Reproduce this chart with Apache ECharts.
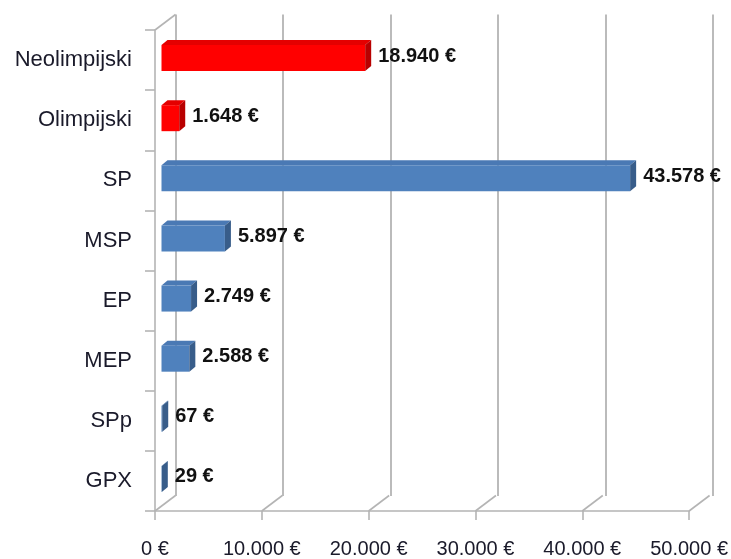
<!DOCTYPE html>
<html>
<head>
<meta charset="utf-8">
<script src="https://cdn.jsdelivr.net/npm/echarts@6/dist/echarts.min.js"></script>
<style>
  html, body { margin: 0; padding: 0; background: #fff; }
  #container { width: 731px; height: 559px; }
</style>
</head>
<body>
<div id="container"></div>
<script>
// data
var categories = ['Neolimpijski', 'Olimpijski', 'SP', 'MSP', 'EP', 'MEP', 'SPp', 'GPX'];
var values = [18940, 1648, 43578, 5897, 2749, 2588, 67, 29];
var olympic = ['Neolimpijski', 'Olimpijski'];
var axisMin = 0;
var axisMax = 50000;
var axisStep = 10000;
var tickValues = [0, 10000, 20000, 30000, 40000, 50000];

// 3d look
var wallDx = 20.5, wallDy = -15.5;
var barDx = 6, barDy = -5;
var faceH = 26;
var gridColor = '#b4b4b4';
var font = 'Liberation Sans';

function euro(v) {
  var s = String(Math.round(v)).replace(/\B(?=(\d{3})+(?!\d))/g, '.');
  return s + ' €';
}

var dom = document.getElementById('container');
var myChart = echarts.init(dom);

var barData = values.map(function (v, i) { return [v, i]; });

function renderBar(params, api) {
  var i = api.value(1);
  var v = api.value(0);
  var start = api.coord([0, i]);
  var end = api.coord([v, i]);
  var red = olympic.indexOf(categories[i]) >= 0;
  var front = red ? '#ff0000' : '#4f81bd';
  var top = red ? '#e40000' : '#4a79b4';
  var side = red ? '#b80000' : '#385d8a';
  var x0 = start[0], x1 = end[0];
  var y0 = start[1] - faceH / 2, y1 = start[1] + faceH / 2;
  return {
    type: 'group',
    children: [
      {
        type: 'polygon',
        shape: { points: [[x0, y0], [x1, y0], [x1 + barDx, y0 + barDy], [x0 + barDx, y0 + barDy]] },
        style: { fill: top }
      },
      {
        type: 'rect',
        shape: { x: x0, y: y0, width: x1 - x0, height: faceH },
        style: { fill: front }
      },
      {
        type: 'polygon',
        shape: { points: [[x1, y0], [x1 + barDx, y0 + barDy], [x1 + barDx, y1 + barDy], [x1, y1]] },
        style: { fill: side }
      },
      {
        type: 'text',
        x: x1 + barDx + 7,
        y: start[1] - 2,
        style: {
          text: euro(v),
          fill: '#111',
          font: 'bold 20px "' + font + '"',
          verticalAlign: 'middle',
          align: 'left'
        }
      }
    ]
  };
}

function renderDiag(params, api) {
  var cs = params.coordSys;
  var x = api.coord([api.value(0), 0])[0];
  var bottom = cs.y + cs.height;
  var children = [{
    type: 'line',
    shape: { x1: x, y1: bottom, x2: x + wallDx, y2: bottom + wallDy },
    style: { stroke: gridColor, lineWidth: 1.6 }
  }];
  if (params.dataIndex === 0) {
    children.push({
      type: 'line',
      shape: { x1: cs.x, y1: cs.y, x2: cs.x + wallDx, y2: cs.y + wallDy },
      style: { stroke: gridColor, lineWidth: 1.6 }
    });
  }
  return { type: 'group', children: children };
}

var option = {
  backgroundColor: '#fff',
  animation: false,
  textStyle: { fontFamily: font },
  grid: [
    { left: 155, top: 30, width: 537.7, height: 481 },
    { left: 175.5, top: 14.5, width: 537.7, height: 481.5 },
    { left: 161.5, top: 28, width: 537.7, height: 481 }
  ],
  xAxis: [
    {
      gridIndex: 0, type: 'value', min: axisMin, max: axisMax, interval: axisStep,
      axisLine: { show: true, lineStyle: { color: gridColor, width: 1.6 } },
      axisTick: { show: true, length: 9, lineStyle: { color: gridColor, width: 1.6 } },
      splitLine: { show: false },
      axisLabel: {
        margin: 28, fontSize: 20, color: '#1a1a2a', fontFamily: font,
        formatter: function (v) { return euro(v); }
      }
    },
    {
      gridIndex: 1, type: 'value', min: axisMin, max: axisMax, interval: axisStep,
      axisLine: { show: false }, axisTick: { show: false }, axisLabel: { show: false },
      splitLine: { show: true, lineStyle: { color: gridColor, width: 1.8 } }
    },
    {
      gridIndex: 2, type: 'value', min: axisMin, max: axisMax,
      show: false
    }
  ],
  yAxis: [
    {
      gridIndex: 0, type: 'category', data: categories, inverse: true,
      axisLine: { show: true, lineStyle: { color: gridColor, width: 1.6 } },
      axisTick: { show: true, length: 10, lineStyle: { color: gridColor, width: 1.6 } },
      splitLine: { show: false },
      axisLabel: { margin: 23, fontSize: 22, color: '#1a1a2a', fontFamily: font }
    },
    {
      gridIndex: 1, type: 'category', data: categories, inverse: true, show: false
    },
    {
      gridIndex: 2, type: 'category', data: categories, inverse: true, show: false
    }
  ],
  series: [
    {
      type: 'custom',
      xAxisIndex: 0, yAxisIndex: 0,
      renderItem: renderDiag,
      data: tickValues.map(function (v) { return [v, 0]; }),
      silent: true,
      z: 1
    },
    {
      type: 'custom',
      xAxisIndex: 2, yAxisIndex: 2,
      renderItem: renderBar,
      data: barData,
      z: 5
    }
  ]
};

myChart.setOption(option, true);
</script>
</body>
</html>
